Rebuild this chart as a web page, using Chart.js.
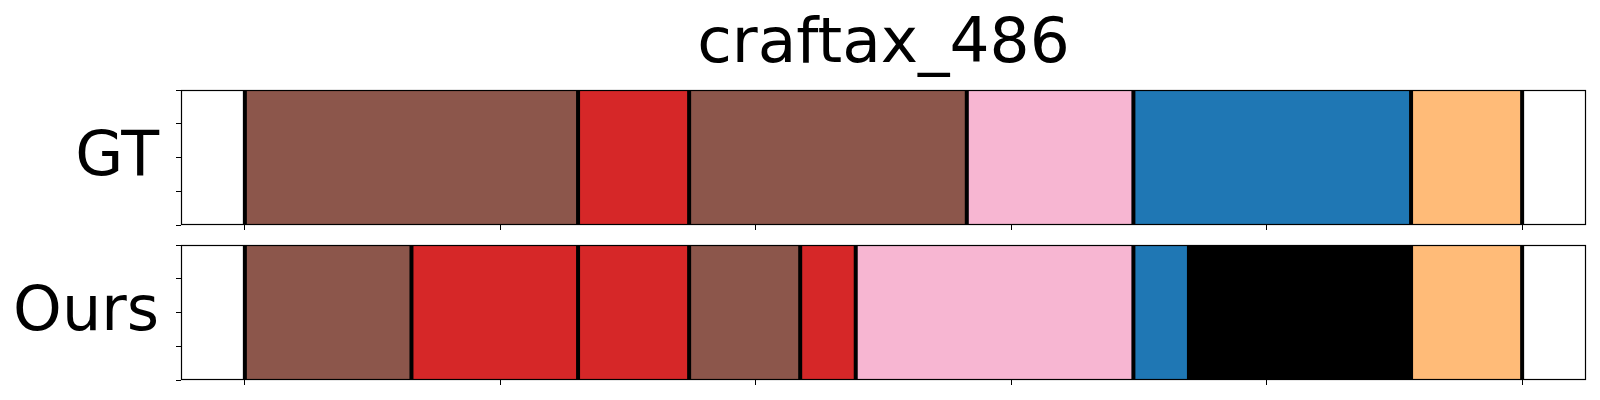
<!DOCTYPE html>
<html>
<head>
<meta charset="utf-8">
<script src="https://cdn.jsdelivr.net/npm/chart.js@4.4.1/dist/chart.umd.min.js"></script>
<style>
  html, body { margin: 0; padding: 0; background: #fff; }
  #wrap { position: relative; width: 1600px; height: 400px; }
  .panel { position: absolute; left: 0; width: 1600px; }
</style>
</head>
<body>
<div id="wrap">
  <div class="panel" style="top:0;height:235px"><canvas id="gtChart"></canvas></div>
  <div class="panel" style="top:235px;height:165px"><canvas id="oursChart"></canvas></div>
</div>
<script>
/* segment timeline: ground truth vs prediction, craftax_486 */

const BROWN = '#8c564b';
const RED = '#d62728';
const PINK = '#f7b6d2';
const BLUE = '#1f77b4';
const ORANGE = '#ffbb78';
const BLACK = '#000000';

const titleText = 'craftax_486';
const rowLabels = ['GT', 'Ours'];
const xTicks = [0, 23, 46, 69, 92, 115];
const yTicks = [0, 0.25, 0.5, 0.75, 1];

// segment boundaries (frame index) and segment colours
const gtBounds = [0, 30, 40, 65, 80, 105, 115];
const gtColors = [BROWN, RED, BROWN, PINK, BLUE, ORANGE];

const oursBounds = [0, 15, 30, 40, 50, 55, 80, 85, 105, 115];
const oursColors = [BROWN, RED, RED, BROWN, RED, PINK, BLUE, BLACK, ORANGE];

const seqLen = xTicks[xTicks.length - 1];

const panelText = {
    id: 'panelText',
    afterDraw(chart, args, opts) {
        const { ctx, chartArea: a } = chart;
        ctx.save();
        ctx.fillStyle = '#000';
        ctx.font = '62px "DejaVu Sans"';
        ctx.textBaseline = 'alphabetic';
        ctx.textAlign = 'right';
        ctx.fillText(opts.rowLabel, a.left - 22, (a.top + a.bottom) / 2 + 17);
        if (opts.title) {
            ctx.font = '63px "DejaVu Sans"';
            ctx.textAlign = 'center';
            ctx.fillText(opts.title, (a.left + a.right) / 2, a.top - 28);
        }
        ctx.restore();
    }
};

const frame = {
    id: 'frame',
    afterDatasetsDraw(chart) {
        const { ctx, chartArea: a } = chart;
        ctx.save();
        ctx.strokeStyle = '#000';
        ctx.lineWidth = 1.2;
        ctx.strokeRect(Math.round(a.left) + 0.5, Math.round(a.top) + 0.5,
            Math.round(a.right - a.left) - 1, Math.round(a.bottom - a.top) - 1);
        ctx.restore();
    }
};

const tickGrid = {
    drawOnChartArea: false,
    drawTicks: true,
    tickLength: 5,
    color: '#000',
    lineWidth: 1,
    offset: false
};

function buildSegmentChart(canvasId, rowLabel, bounds, colors, padding, title) {
    const segs = colors.map((c, i) => ({
        type: 'bar',
        data: [[bounds[i], bounds[i + 1]]],
        backgroundColor: c,
        borderWidth: 0,
        barPercentage: 1,
        categoryPercentage: 1,
        grouped: false,
        xAxisID: 'x',
        yAxisID: 'yCat',
        order: 2
    }));

    const dividers = bounds.map(b => ({
        type: 'line',
        data: [{ x: b, y: 0 }, { x: b, y: 1 }],
        borderColor: '#000',
        borderWidth: 4,
        pointRadius: 0,
        fill: false,
        xAxisID: 'x',
        yAxisID: 'yTicks',
        order: 1
    }));

    return new Chart(document.getElementById(canvasId), {
        type: 'bar',
        data: {
            labels: [rowLabel],
            datasets: segs.concat(dividers)
        },
        options: {
            indexAxis: 'y',
            responsive: true,
            maintainAspectRatio: false,
            animation: false,
            layout: { padding },
            scales: {
                x: {
                    type: 'linear',
                    min: -0.05 * seqLen,
                    max: 1.05 * seqLen,
                    offset: false,
                    grid: tickGrid,
                    border: { display: false },
                    ticks: { display: false },
                    afterBuildTicks: s => { s.ticks = xTicks.map(v => ({ value: v })); },
                    afterFit: s => { s.height = 10; }
                },
                yCat: {
                    type: 'category',
                    display: false,
                    offset: true
                },
                yTicks: {
                    type: 'linear',
                    position: 'left',
                    min: 0,
                    max: 1,
                    offset: false,
                    grid: tickGrid,
                    border: { display: false },
                    ticks: { display: false },
                    afterBuildTicks: s => { s.ticks = yTicks.map(v => ({ value: v })); },
                    afterFit: s => { s.width = 10; }
                }
            },
            plugins: {
                legend: { display: false },
                tooltip: { enabled: false },
                panelText: { rowLabel, title }
            }
        },
        plugins: [frame, panelText]
    });
}

buildSegmentChart('gtChart', rowLabels[0], gtBounds, gtColors,
    { top: 90, left: 171, right: 14, bottom: 0 }, titleText);
buildSegmentChart('oursChart', rowLabels[1], oursBounds, oursColors,
    { top: 10, left: 171, right: 14, bottom: 10 }, null);
</script>
</body>
</html>
